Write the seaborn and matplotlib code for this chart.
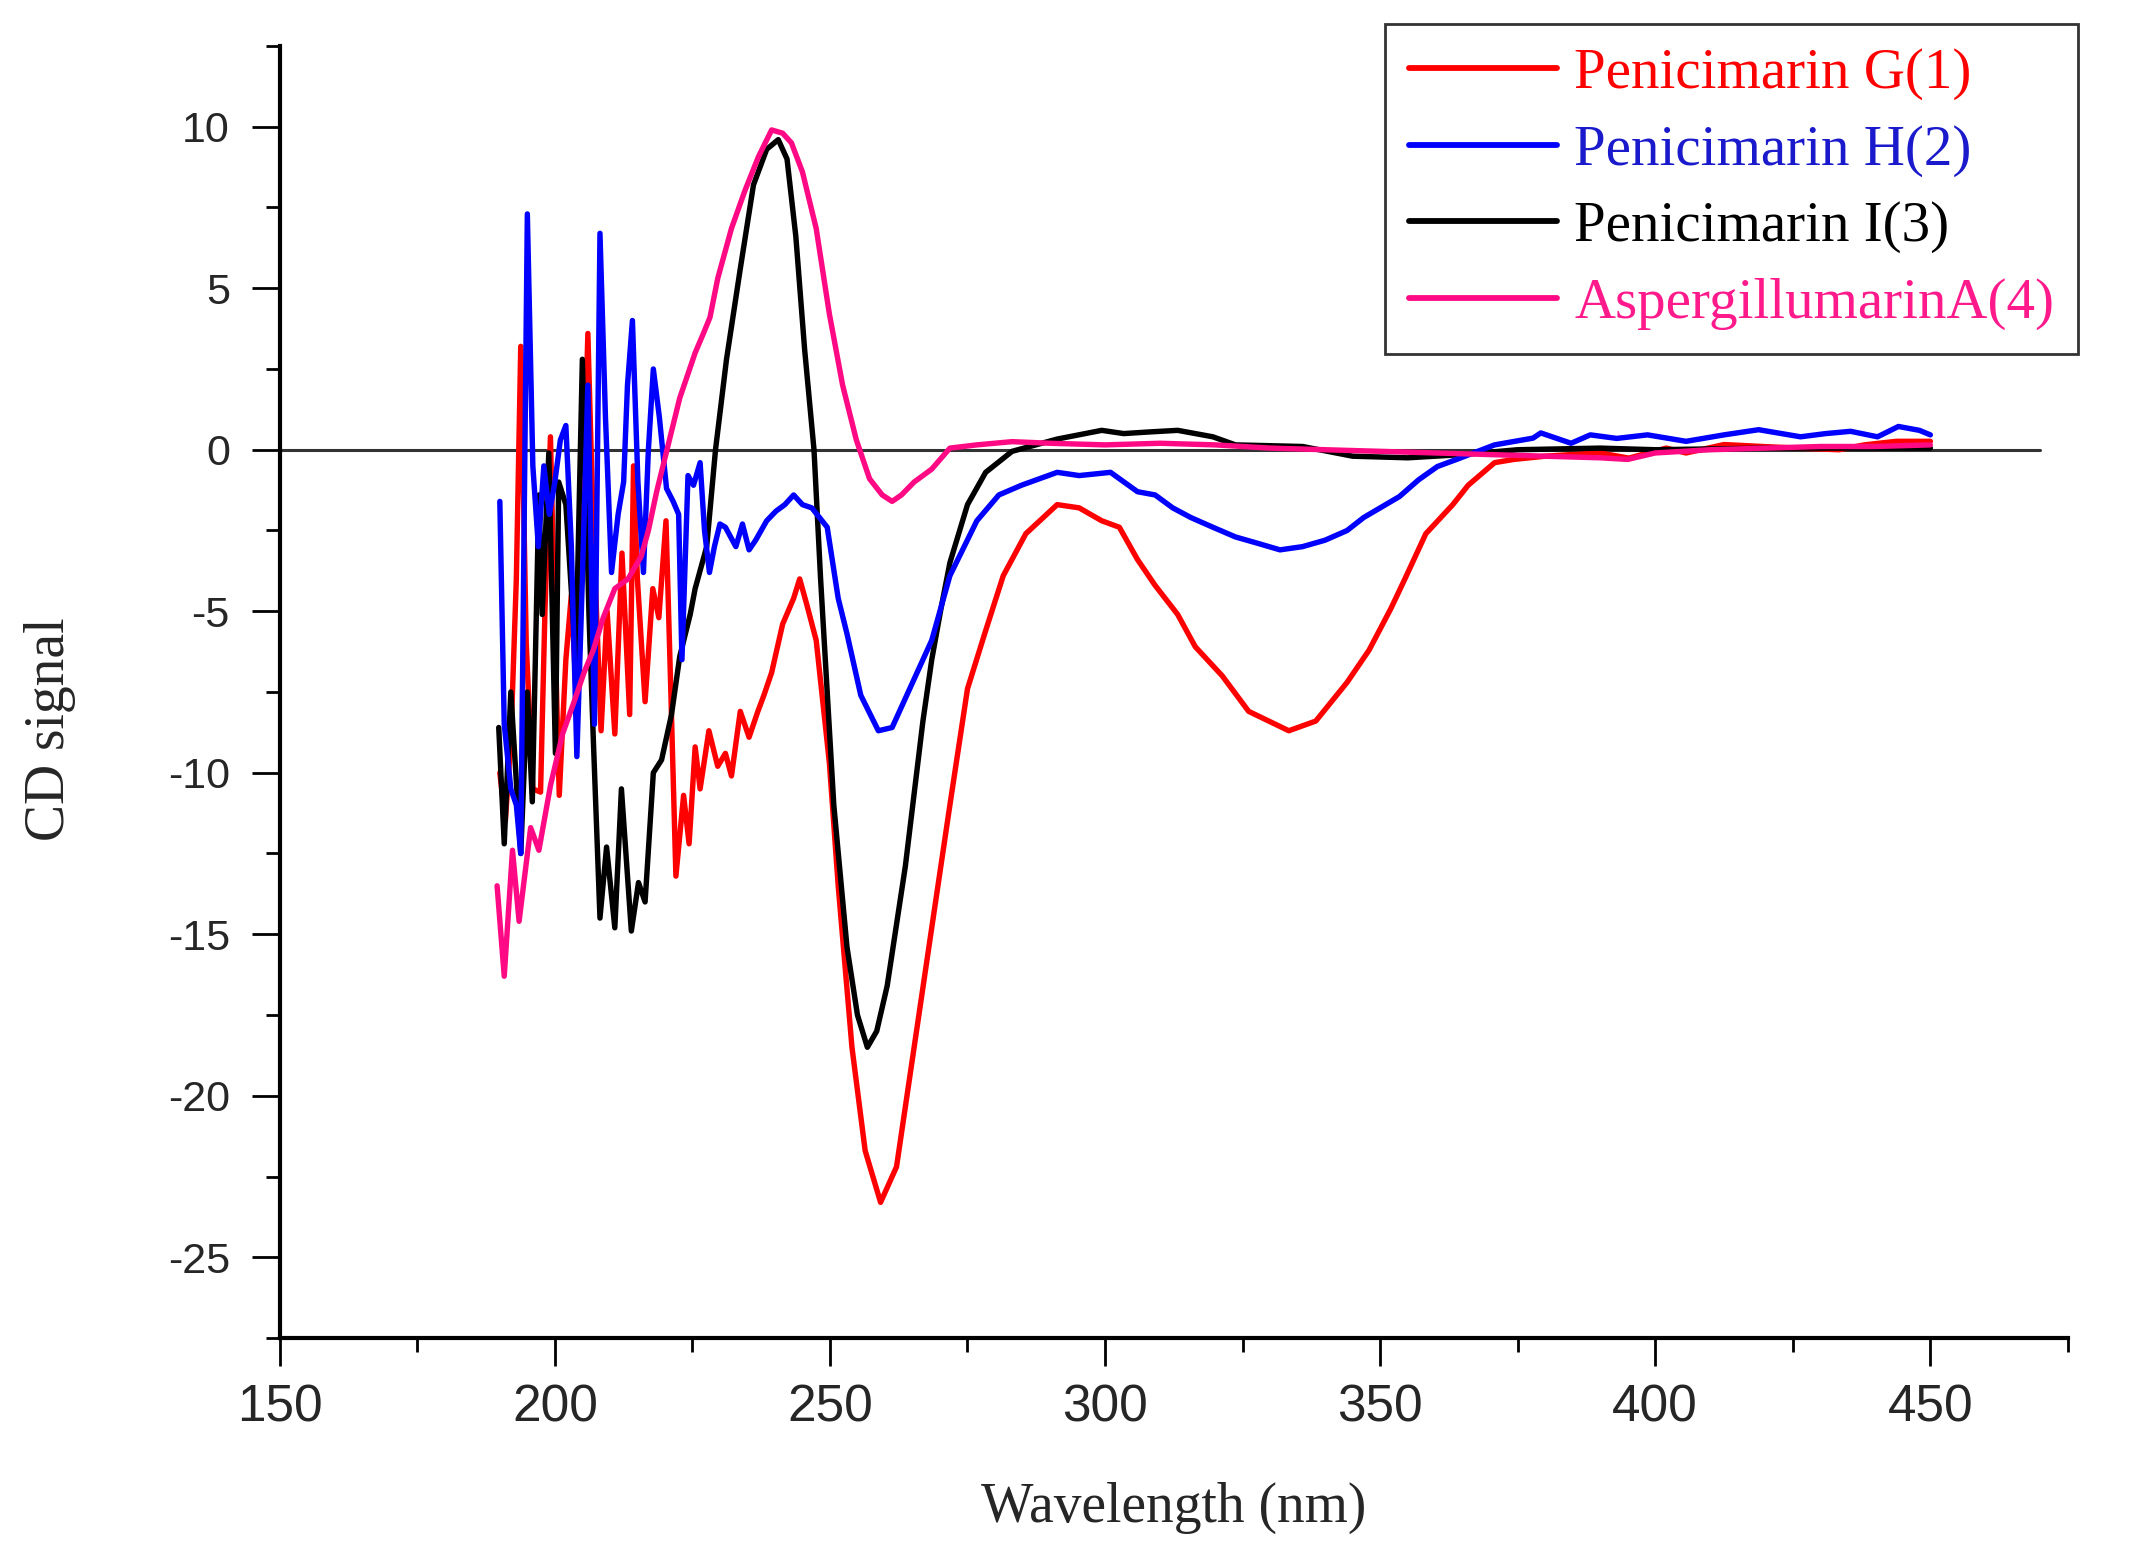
import matplotlib
matplotlib.use('Agg')
import matplotlib.pyplot as plt
import seaborn as sns
import pandas as pd
from matplotlib.ticker import MultipleLocator
from matplotlib.lines import Line2D

sns.set_style('ticks')
plt.rcParams['font.family'] = ['Liberation Sans', 'DejaVu Sans']
plt.rcParams['axes.unicode_minus'] = False

#%% data

# Penicimarin G(1)
wl_g = [190, 191, 192, 193, 193.8, 194.8, 196, 197.4, 198.2, 199.2, 200, 200.8, 202, 203, 204, 205,
        206, 207, 208.4, 209.5, 210.9, 212.2, 213.6, 214.3, 215, 216.4, 217.8, 218.9, 220.2, 221,
        222, 223.4, 224.4, 225.5, 226.4, 228, 229.6, 231, 232.1, 233.7, 235.3, 236.9, 238, 239.4,
        241.4, 243.4, 244.5, 245.8, 247.5, 249.9, 251.5, 254, 256.4, 259.2, 262.1, 265.3, 268.5,
        271.8, 275, 278.3, 281.5, 285.6, 291.3, 295.3, 299.4, 302.6, 305.9, 309.1, 313.2, 316.4,
        321.3, 326.1, 333.4, 338.3, 344, 348, 352, 354.5, 358.3, 363.2, 366, 370.8, 374.3, 380,
        384.7, 390, 395.2, 402, 405.6, 412.5, 419.5, 426, 433.4, 438, 443.8, 450]
cd_g = [-10.0, -11.5, -9.0, -4.0, 3.2, -6.0, -10.5, -10.6, -5.0, 0.4, -5.5, -10.7, -6.5, -4.5, -8.0, -2.5,
        3.6, -2.5, -8.7, -5.0, -8.8, -3.2, -8.2, -0.5, -4.0, -7.8, -4.3, -5.2, -2.2, -7.0,
        -13.2, -10.7, -12.2, -9.2, -10.5, -8.7, -9.8, -9.4, -10.1, -8.1, -8.9, -8.1, -7.6, -6.9,
        -5.4, -4.6, -4.0, -4.8, -5.9, -9.7, -13.5, -18.5, -21.7, -23.3, -22.2, -18.5, -14.8,
        -11.0, -7.4, -5.6, -3.9, -2.6, -1.7, -1.8, -2.2, -2.4, -3.4, -4.2, -5.1, -6.1,
        -7.0, -8.1, -8.7, -8.4, -7.2, -6.2, -4.9, -4.0, -2.6, -1.7, -1.1, -0.4, -0.3, -0.2,
        -0.15, -0.1, -0.26, 0.05, -0.1, 0.16, 0.1, 0.05, 0.0, 0.15, 0.26, 0.26]

# Penicimarin H(2)
wl_h = [190, 190.8, 192, 193, 193.8, 195, 196, 197, 198, 199, 200, 201, 202, 203, 204, 205, 206,
        207.2, 208.2, 209.2, 210.3, 211.5, 212.5, 213.2, 214.1, 215.1, 216.1, 217, 217.9, 219,
        220.3, 221.5, 222.5, 223.1, 224.2, 225.2, 226.4, 227.2, 228.1, 229, 230, 231, 232.9,
        234.1, 235.3, 236.5, 238.5, 240.2, 241.8, 243.4, 245, 246.7, 249.5, 251.5, 253.1, 255.6,
        258.8, 261.3, 264.5, 268.5, 271.8, 276.7, 280.7, 284.8, 291.3, 295.3, 301, 305.9, 309.1,
        312.3, 315.6, 319.6, 323.7, 327.8, 331.8, 335.9, 340, 344, 347, 350, 353.5, 357, 360.4,
        363.9, 370.8, 377.8, 379.2, 384.7, 388.2, 393, 398.6, 405.6, 412.5, 418.8, 426.4, 431,
        435.5, 440.4, 444.2, 448, 450]
cd_h = [-1.6, -8.5, -10.5, -11.0, -12.5, 7.3, -0.5, -3.0, -0.5, -2.0, -1.0, 0.3, 0.75, -3.0, -9.5, -4.0, 2.0,
        -8.5, 6.7, 1.0, -3.8, -2.0, -1.0, 2.0, 4.0, -1.0, -3.8, 0.0, 2.5, 1.0,
        -1.2, -1.6, -2.0, -6.5, -0.8, -1.1, -0.4, -2.5, -3.8, -3.0, -2.3, -2.4, -3.0,
        -2.3, -3.1, -2.8, -2.2, -1.9, -1.7, -1.4, -1.7, -1.8, -2.4, -4.6, -5.7, -7.6,
        -8.7, -8.6, -7.4, -5.9, -3.9, -2.2, -1.4, -1.1, -0.7, -0.8, -0.7, -1.3, -1.4,
        -1.8, -2.1, -2.4, -2.7, -2.9, -3.1, -3.0, -2.8, -2.5, -2.1, -1.8, -1.45, -0.93, -0.52,
        -0.3, 0.15, 0.36, 0.52, 0.2, 0.46, 0.35, 0.46, 0.26, 0.46, 0.62, 0.4, 0.5,
        0.57, 0.4, 0.72, 0.6, 0.46]

# Penicimarin I(3)
wl_i = [189.8, 190.8, 192, 193.8, 195, 195.9, 197.1, 197.7, 198.9, 200.1, 200.7, 202, 203.8, 205,
        206.2, 207, 208.2, 209.4, 210.9, 212.1, 213.9, 215.2, 216.4, 217.9, 219.4, 221.2, 222.7,
        224.6, 225.5, 227.6, 229.2, 231.2, 233.7, 236.1, 238.5, 240.6, 242.2, 243.8, 245.4, 247.1,
        248.3, 250.7, 253.1, 255, 256.8, 258.5, 260.4, 263.7, 266.9, 268.5, 270.2, 271.8, 275,
        278.3, 283.1, 291.3, 299.4, 303.4, 308, 313.2, 319.6, 323.7, 335.9, 345, 355, 365, 375,
        390, 400, 420, 450]
cd_i = [-8.6, -12.2, -7.5, -12.5, -7.5, -10.9, -1.4, -5.1, -0.1, -9.4, -1.0, -1.7, -6.5, 2.8,
        -5.1, -9.0, -14.5, -12.3, -14.8, -10.5, -14.9, -13.4, -14.0, -10.0, -9.6, -8.2, -6.4,
        -5.1, -4.3, -3.0, 0.0, 2.8, 5.6, 8.2, 9.3, 9.6, 9.0, 6.6, 3.1, 0.0,
        -4.0, -11.0, -15.4, -17.5, -18.5, -18.0, -16.6, -12.9, -8.4, -6.5, -4.9, -3.5, -1.7,
        -0.7, -0.05, 0.33, 0.6, 0.5, 0.55, 0.6, 0.4, 0.15, 0.1, -0.2, -0.25, -0.15, 0.0,
        0.05, 0.0, 0.05, 0.05]

# AspergillumarinA(4)
wl_a = [189.5, 190.8, 192.3, 193.5, 195.6, 197.1, 199.2, 201.4, 203.5, 205.3, 207, 208.8, 210.9,
        213.3, 215.7, 217, 218.5, 220.6, 222.7, 225.5, 227, 228.2, 229.6, 232.1, 234.5, 237,
        239.4, 241.4, 243, 245, 247.5, 249.9, 252.3, 254.8, 257.2, 259.5, 261.3, 263, 265.3,
        268.5, 271.8, 276.7, 283.1, 290, 300, 310, 320, 330, 340, 350, 360, 370, 380, 390, 395,
        400, 410, 420, 430, 440, 450]
cd_a = [-13.5, -16.3, -12.4, -14.6, -11.7, -12.4, -10.4, -8.8, -7.8, -6.9, -6.2, -5.2, -4.3,
        -4.0, -3.3, -2.5, -1.3, 0.15, 1.6, 3.0, 3.6, 4.1, 5.3, 6.85, 8.0, 9.07,
        9.9, 9.8, 9.5, 8.6, 6.85, 4.2, 2.0, 0.3, -0.9, -1.4, -1.6, -1.4, -1.0,
        -0.6, 0.05, 0.15, 0.25, 0.2, 0.15, 0.2, 0.15, 0.05, 0.0, -0.05, -0.1, -0.15, -0.2, -0.25, -0.3,
        -0.1, 0.0, 0.05, 0.1, 0.1, 0.15]

# zero reference line
zero_x = [150, 470]
zero_y = [0, 0]

labels = ['Penicimarin G(1)', 'Penicimarin H(2)', 'Penicimarin I(3)', 'AspergillumarinA(4)']
colors = ['#ff0000', '#0000ff', '#000000', '#ff0a84']
text_colors = ['#ff0000', '#1a1acc', '#000000', '#ff1a8c']

#%% plot
fig = plt.figure(figsize=(21.29, 15.58), dpi=100)
ax = fig.add_axes([0.1314, 0.1412, 0.8399, 0.8293])

ax.plot(zero_x, zero_y, color='#333333', lw=2.2, zorder=1)

# red, black, blue, pink drawn in that order (blue sits over black in the noisy part)
series = {0: (wl_g, cd_g), 2: (wl_i, cd_i), 1: (wl_h, cd_h), 3: (wl_a, cd_a)}
for k, (wl, cd) in series.items():
    df = pd.DataFrame({'wl': wl, 'cd': cd})
    sns.lineplot(data=df, x='wl', y='cd', ax=ax, color=colors[k], lw=3.9,
                 estimator=None, sort=False)

ax.set_xlim(150, 475)
ax.set_ylim(-27.5, 12.5)
ax.xaxis.set_major_locator(MultipleLocator(50))
ax.xaxis.set_minor_locator(MultipleLocator(25))
ax.yaxis.set_major_locator(MultipleLocator(5))
ax.yaxis.set_minor_locator(MultipleLocator(2.5))
ax.tick_params(which='major', length=20, width=2, direction='out', color='black')
ax.tick_params(which='minor', length=10, width=2, direction='out', color='black')
ax.tick_params(axis='x', which='major', labelsize=37, pad=13)
ax.tick_params(axis='y', which='major', labelsize=31, pad=16)
sns.despine(ax=ax)
for s in ['left', 'bottom']:
    ax.spines[s].set_linewidth(3)
    ax.spines[s].set_color('black')

ax.set_xlabel('Wavelength (nm)', family='Liberation Serif', fontsize=40)
ax.set_ylabel('CD signal', family='Liberation Serif', fontsize=40)
ax.xaxis.set_label_coords(0.5, -0.111)
ax.yaxis.set_label_coords(-0.114, 0.471)

handles = [Line2D([], [], color=c, lw=4.2) for c in colors]
leg = ax.legend(handles, labels, loc='upper right',
                bbox_to_anchor=(2078 / 2129, 1 - 24 / 1558), bbox_transform=fig.transFigure,
                frameon=True, fancybox=False, edgecolor='#333333', framealpha=1,
                prop={'family': 'Liberation Serif', 'size': 41},
                handlelength=2.6, handletextpad=0.3, labelspacing=0.43,
                borderpad=0.42, borderaxespad=0)
leg.get_frame().set_linewidth(2)
for t, c in zip(leg.get_texts(), text_colors):
    t.set_color(c)

fig.savefig('out.png', dpi=100)
